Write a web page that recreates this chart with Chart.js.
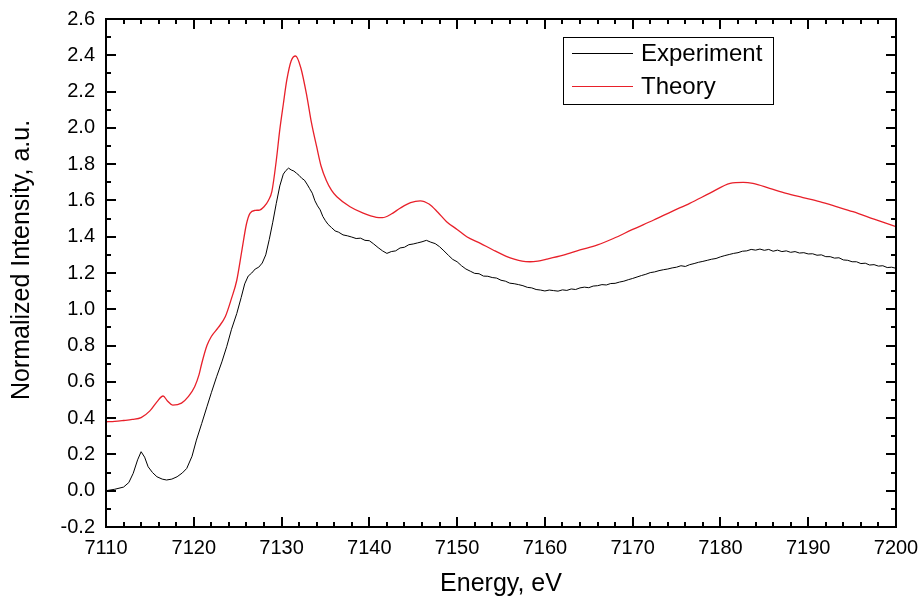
<!DOCTYPE html>
<html><head><meta charset="utf-8">
<script src="https://cdn.jsdelivr.net/npm/chart.js@4/dist/chart.umd.min.js"></script>
<style>html,body{margin:0;padding:0;background:#fff;}</style>
</head><body>
<canvas id="c" width="920" height="599"></canvas>
<script>
const expEnergy = [7110.0,7111.0,7112.0,7112.6,7113.1,7113.6,7114.0,7114.4,7114.8,7115.3,7115.8,7116.4,7116.9,7117.5,7118.1,7118.7,7119.2,7119.8,7120.3,7120.9,7121.5,7122.0,7122.6,7123.2,7123.75,7124.3,7124.9,7125.4,7125.8,7126.2,7126.6,7127.0,7127.4,7127.8,7128.2,7128.6,7129.0,7129.4,7129.8,7130.2,7130.5,7130.8,7131.1,7131.4,7131.7,7132.0,7132.3,7132.6,7132.9,7133.2,7133.5,7133.8,7134.1,7134.4,7134.7,7135.0,7135.3,7135.7,7136.1,7136.5,7137.0,7137.5,7138.0,7138.5,7139.0,7139.5,7140.0,7140.5,7141.0,7141.5,7142.0,7142.5,7143.0,7143.5,7144.0,7144.5,7145.0,7145.5,7146.0,7146.5,7147.0,7147.5,7148.0,7148.5,7149.0,7149.5,7150.0,7150.5,7151.0,7151.5,7152.0,7152.5,7153.0,7153.5,7154.0,7154.5,7155.0,7155.5,7156.0,7156.5,7157.0,7157.5,7158.0,7158.5,7159.0,7159.5,7160.0,7160.5,7161.0,7161.5,7162.0,7162.5,7163.0,7163.5,7164.0,7164.5,7165.0,7165.5,7166.0,7166.5,7167.0,7167.5,7168.0,7168.5,7169.0,7169.5,7170.0,7170.5,7171.0,7171.5,7172.0,7172.5,7173.0,7173.5,7174.0,7174.5,7175.0,7175.5,7176.0,7176.5,7177.0,7177.5,7178.0,7178.5,7179.0,7179.5,7180.0,7180.5,7181.0,7181.5,7182.0,7182.5,7183.0,7183.5,7184.0,7184.5,7185.0,7185.5,7186.0,7186.5,7187.0,7187.5,7188.0,7188.5,7189.0,7189.5,7190.0,7190.5,7191.0,7191.5,7192.0,7192.5,7193.0,7193.5,7194.0,7194.5,7195.0,7195.5,7196.0,7196.5,7197.0,7197.5,7198.0,7198.5,7199.0,7199.5,7200.0];
const expIntensity = [0.000,0.008,0.020,0.045,0.096,0.170,0.215,0.185,0.132,0.100,0.077,0.064,0.059,0.064,0.077,0.098,0.123,0.190,0.279,0.370,0.463,0.540,0.628,0.710,0.794,0.890,0.977,1.065,1.140,1.183,1.200,1.222,1.232,1.255,1.300,1.385,1.480,1.584,1.680,1.745,1.765,1.778,1.768,1.762,1.750,1.738,1.722,1.712,1.690,1.665,1.640,1.598,1.570,1.548,1.512,1.488,1.468,1.450,1.432,1.425,1.410,1.405,1.398,1.390,1.392,1.380,1.378,1.360,1.340,1.322,1.308,1.318,1.322,1.338,1.342,1.356,1.360,1.366,1.372,1.380,1.370,1.362,1.345,1.322,1.298,1.275,1.262,1.240,1.222,1.210,1.198,1.196,1.183,1.182,1.175,1.172,1.160,1.155,1.144,1.141,1.136,1.130,1.121,1.118,1.109,1.106,1.101,1.106,1.103,1.100,1.107,1.104,1.112,1.109,1.118,1.122,1.119,1.128,1.130,1.136,1.134,1.142,1.143,1.150,1.155,1.163,1.170,1.178,1.186,1.193,1.202,1.206,1.213,1.218,1.222,1.228,1.232,1.240,1.236,1.246,1.252,1.259,1.264,1.270,1.276,1.280,1.289,1.296,1.302,1.308,1.312,1.320,1.322,1.330,1.326,1.332,1.325,1.330,1.320,1.326,1.318,1.322,1.314,1.318,1.310,1.312,1.305,1.306,1.298,1.300,1.290,1.290,1.282,1.284,1.272,1.270,1.262,1.262,1.252,1.254,1.244,1.246,1.238,1.240,1.230,1.232,1.226];
const theoryEnergy = [7110.0,7111.0,7112.0,7113.0,7114.0,7115.0,7115.8,7116.5,7117.0,7117.6,7118.6,7119.4,7120.1,7120.6,7120.9,7121.5,7122.0,7122.8,7123.6,7124.3,7124.9,7125.5,7126.0,7126.4,7127.0,7127.5,7128.0,7128.5,7128.9,7129.4,7129.8,7130.2,7130.6,7131.1,7131.6,7132.2,7132.9,7133.4,7134.0,7134.5,7135.1,7135.7,7136.3,7137.8,7139.3,7140.8,7141.5,7142.5,7143.5,7144.7,7145.8,7146.8,7147.8,7148.8,7150.0,7151.1,7152.6,7154.1,7155.6,7156.5,7157.4,7158.3,7159.2,7160.2,7162.1,7164.0,7166.0,7167.8,7170.0,7172.4,7174.5,7176.5,7178.8,7181.1,7182.6,7183.7,7185.6,7187.5,7189.4,7191.3,7193.2,7195.1,7197.5,7200.0];
const theoryIntensity = [0.380,0.382,0.387,0.393,0.403,0.440,0.490,0.522,0.495,0.472,0.483,0.520,0.573,0.640,0.700,0.800,0.850,0.900,0.960,1.060,1.160,1.330,1.470,1.529,1.545,1.547,1.565,1.600,1.650,1.820,1.990,2.130,2.264,2.370,2.396,2.330,2.170,2.030,1.896,1.790,1.710,1.655,1.620,1.565,1.530,1.507,1.505,1.525,1.557,1.588,1.598,1.580,1.535,1.483,1.440,1.400,1.365,1.327,1.292,1.276,1.265,1.262,1.266,1.276,1.298,1.327,1.355,1.390,1.440,1.492,1.540,1.584,1.640,1.694,1.700,1.694,1.667,1.639,1.616,1.593,1.566,1.538,1.497,1.455];
const seriesNames = ["Experiment", "Theory"];
const xTitle = "Energy, eV";
const yTitle = "Normalized Intensity, a.u.";
const xTickLabels = [7110,7120,7130,7140,7150,7160,7170,7180,7190,7200];
const yTickLabels = [-0.2,0.0,0.2,0.4,0.6,0.8,1.0,1.2,1.4,1.6,1.8,2.0,2.2,2.4,2.6];

const FONT = "'Liberation Sans', Arial, sans-serif";

const frameAndLegend = {
  id: 'frameAndLegend',
  afterDraw(chart) {
    const ctx = chart.ctx, a = chart.chartArea;
    const xs = chart.scales.x, ys = chart.scales.y;
    ctx.save();
    ctx.strokeStyle = '#000';
    ctx.lineWidth = 2;
    ctx.strokeRect(a.left, a.top, a.right - a.left, a.bottom - a.top);
    ctx.beginPath();
    const xMin = xTickLabels[0], xMax = xTickLabels[xTickLabels.length - 1];
    for (let i = 0; i <= (xMax - xMin) / 2; i++) {
      const v = xMin + i * 2;
      const p = Math.round(xs.getPixelForValue(v));
      const len = (i % 5 === 0) ? 10 : 5;
      ctx.moveTo(p, a.bottom); ctx.lineTo(p, a.bottom - len);
      ctx.moveTo(p, a.top); ctx.lineTo(p, a.top + len);
    }
    const yMin = yTickLabels[0], yMax = yTickLabels[yTickLabels.length - 1];
    const n = Math.round((yMax - yMin) / 0.1);
    for (let i = 0; i <= n; i++) {
      const v = yMin + i * 0.1;
      const p = Math.round(ys.getPixelForValue(v));
      const len = (i % 2 === 0) ? 10 : 5;
      ctx.moveTo(a.left, p); ctx.lineTo(a.left + len, p);
      ctx.moveTo(a.right, p); ctx.lineTo(a.right - len, p);
    }
    ctx.stroke();

    // y axis title
    ctx.save();
    ctx.translate(22, 260);
    ctx.rotate(-Math.PI / 2);
    ctx.font = '25px ' + FONT;
    ctx.fillStyle = '#000';
    ctx.textAlign = 'center';
    ctx.textBaseline = 'middle';
    ctx.fillText(yTitle, 0, 0);
    ctx.restore();

    // legend box
    const bx = 563, by = 37, bw = 210, bh = 67;
    ctx.lineWidth = 1;
    ctx.strokeStyle = '#000';
    ctx.strokeRect(bx + 0.5, by + 0.5, bw, bh);
    ctx.font = '24px ' + FONT;
    ctx.textBaseline = 'middle';
    ctx.textAlign = 'left';
    ctx.fillStyle = '#000';
    chart.data.datasets.forEach((ds, i) => {
      const ly = by + 16 + i * 33;
      ctx.strokeStyle = ds.borderColor;
      ctx.lineWidth = 1.2;
      ctx.beginPath();
      ctx.moveTo(bx + 9, ly + 0.5); ctx.lineTo(bx + 70, ly + 0.5);
      ctx.stroke();
      ctx.fillText(ds.label, bx + 78, ly + 1);
    });
    ctx.restore();
  }
};

new Chart(document.getElementById('c'), {
  type: 'line',
  data: {
    datasets: [
      { label: seriesNames[0], data: expEnergy.map((x, i) => ({x, y: expIntensity[i]})),
        borderColor: '#000000', borderWidth: 1, pointRadius: 0, tension: 0 },
      { label: seriesNames[1], data: theoryEnergy.map((x, i) => ({x, y: theoryIntensity[i]})),
        borderColor: '#e8202a', borderWidth: 1.3, pointRadius: 0, cubicInterpolationMode: 'monotone' }
    ]
  },
  options: {
    responsive: false,
    animation: false,
    devicePixelRatio: 1,
    layout: { padding: { top: 19, right: 24, left: 0, bottom: 0 } },
    plugins: { legend: { display: false }, tooltip: { enabled: false } },
    scales: {
      x: {
        type: 'linear', min: 7110, max: 7200,
        afterBuildTicks: s => { s.ticks = xTickLabels.map(v => ({value: v})); },
        afterFit: s => { s.height = 72; s.paddingLeft = 0; s.paddingRight = 0; },
        grid: { display: false, drawTicks: false },
        border: { display: false },
        ticks: { color: '#000', font: { family: FONT, size: 20 }, padding: 9, maxRotation: 0,
                  callback: v => String(v) },
        title: { display: true, text: xTitle, color: '#000', font: { family: FONT, size: 25 }, padding: { top: 4, bottom: 0 } }
      },
      y: {
        type: 'linear', min: -0.2, max: 2.6,
        afterBuildTicks: s => { s.ticks = yTickLabels.map(v => ({value: v})); },
        afterFit: s => { s.width = 106; s.paddingTop = 0; s.paddingBottom = 0; },
        grid: { display: false, drawTicks: false },
        border: { display: false },
        ticks: { color: '#000', font: { family: FONT, size: 20 }, padding: 11,
                 callback: v => Number(v).toFixed(1) },
        title: { display: false }
      }
    }
  },
  plugins: [frameAndLegend]
});
</script>
</body></html>
